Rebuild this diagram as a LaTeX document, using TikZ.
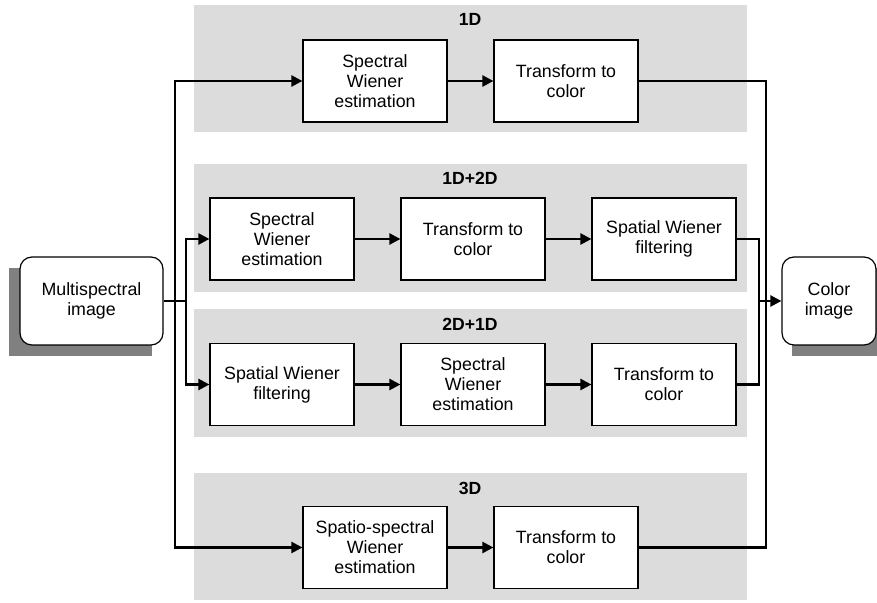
\documentclass[tikz,border=0pt]{standalone}
\usepackage{fontspec}
\setmainfont{Liberation Sans}
\usetikzlibrary{positioning,arrows.meta}

\definecolor{panelgray}{RGB}{220,220,220}
\definecolor{shadowgray}{RGB}{128,128,128}

\begin{document}
\begin{tikzpicture}[x=0.5pt,y=-0.5pt,
  panel/.style={fill=panelgray,draw=none},
  head/.style={font=\bfseries\fontsize{8.8}{10}\selectfont},
  block/.style={draw,fill=white,line width=0.6pt,minimum width=72pt,minimum height=41pt,
    inner sep=0pt,align=center,font=\fontsize{8.9}{10}\selectfont},
  io/.style={draw,fill=white,line width=0.6pt,rounded corners=6pt,minimum height=44pt,
    inner sep=0pt,align=center,font=\fontsize{8.9}{10}\selectfont},
  wire/.style={line width=1.2pt},
  flow/.style={line width=1.2pt,-{Triangle[length=5.5pt,width=5.5pt]}}]
  \useasboundingbox (0,0) rectangle (877,603);

  % background panels
  \fill[panel] (194,5) rectangle (747,132);
  \fill[panel] (194,164) rectangle (747,292);
  \fill[panel] (194,309) rectangle (747,437);
  \fill[panel] (194,473) rectangle (747,600);
  \node[head] (h1) at (470,19) {1D};
  \node[head] (h2) at (470,178) {1D+2D};
  \node[head] (h3) at (470,324) {2D+1D};
  \node[head] (h4) at (470,488) {3D};

  % input / output with shadows
  \fill[shadowgray] (9,268) rectangle (152,356);
  \fill[shadowgray] (792,268) rectangle (886,356);
  \node[io,minimum width=71.5pt] (ms) at (91.5,301) {Multispectral\\image};
  \node[io,minimum width=47pt] (ci) at (829,301) {Color\\image};

  % 1D
  \node[block] (s1) at (375,81) {Spectral\\Wiener\\estimation};
  \node[block] (t1) at (566,81) {Transform to\\color};
  % 1D+2D
  \node[block] (s2) at (282,239) {Spectral\\Wiener\\estimation};
  \node[block] (t2) at (473,239) {Transform to\\color};
  \node[block] (w2) at (664,239) {Spatial Wiener\\filtering};
  % 2D+1D
  \node[block] (w3) at (282,384.5) {Spatial Wiener\\filtering};
  \node[block] (s3) at (473,384.5) {Spectral\\Wiener\\estimation};
  \node[block] (t3) at (664,384.5) {Transform to\\color};
  % 3D
  \node[block] (ss4) at (375,547.5) {Spatio-spectral\\Wiener\\estimation};
  \node[block] (t4) at (566,547.5) {Transform to\\color};

  % split and join points
  \coordinate (lout) at (175,301);
  \coordinate (lin) at (186,301);
  \coordinate (rin) at (759,301);
  \coordinate (rout) at (766,301);

  \draw[wire] (ms.east) -- (lin);
  \draw[flow] (lout) |- (s1.west);
  \draw[flow] (lout) |- (ss4.west);
  \draw[flow] (lin) |- (s2.west);
  \draw[flow] (lin) |- (w3.west);

  \draw[flow] (s1) -- (t1);
  \draw[flow] (s2) -- (t2);
  \draw[flow] (t2) -- (w2);
  \draw[flow] (w3) -- (s3);
  \draw[flow] (s3) -- (t3);
  \draw[flow] (ss4) -- (t4);

  \draw[wire] (t1.east) -| (rout);
  \draw[wire] (t4.east) -| (rout);
  \draw[wire] (w2.east) -| (rin);
  \draw[wire] (t3.east) -| (rin);
  \draw[flow] (rin) -- (ci.west);
\end{tikzpicture}
\end{document}
